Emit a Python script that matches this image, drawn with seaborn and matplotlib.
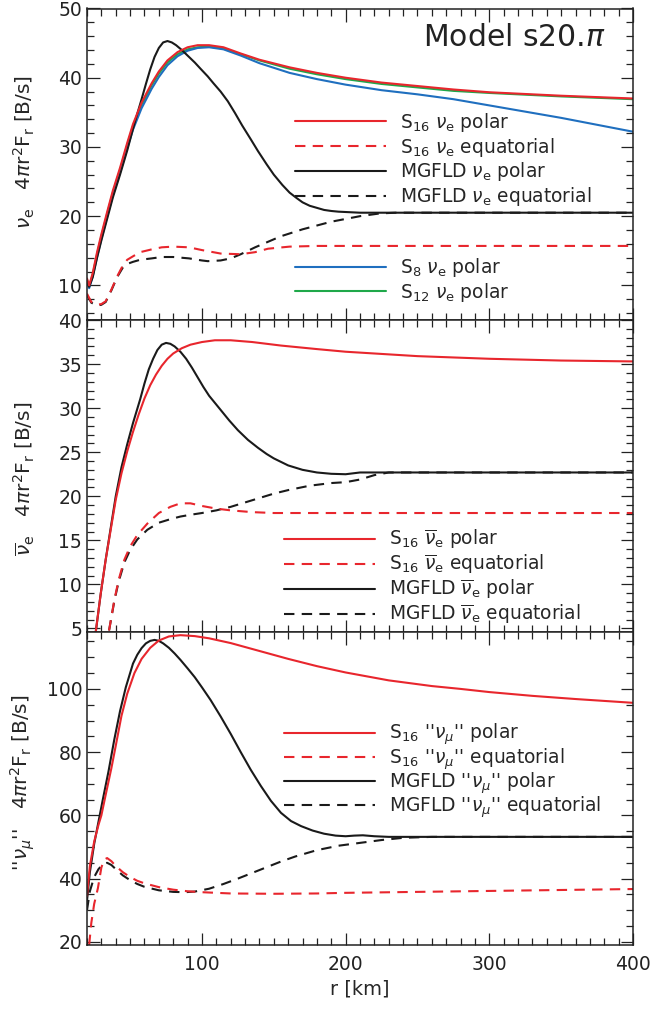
import numpy as np
import pandas as pd
import matplotlib
matplotlib.use("Agg")
import matplotlib.pyplot as plt
from matplotlib.ticker import MultipleLocator
import seaborn as sns

# ---------------- data ----------------
# Panel 1: nu_e
p1_r_polar = [20, 21.5, 24, 27, 30, 34, 38, 43, 48, 52, 58, 65, 70, 76, 83, 90, 97, 105, 115, 127, 140, 161, 180, 200, 225, 250, 275, 300, 350, 400]
p1_s16_polar = [11.0, 10.0, 11.8, 14.8, 17.4, 20.6, 23.7, 27.0, 30.6, 33.3, 36.4, 39.2, 40.9, 42.5, 43.7, 44.4, 44.7, 44.7, 44.4, 43.5, 42.6, 41.5, 40.7, 40.0, 39.3, 38.8, 38.3, 37.9, 37.4, 37.0]
p1_s12_polar = [10.8, 9.8, 11.6, 14.5, 17.1, 20.3, 23.4, 26.7, 30.3, 33.0, 36.1, 38.9, 40.6, 42.2, 43.4, 44.1, 44.4, 44.5, 44.2, 43.4, 42.5, 41.3, 40.5, 39.8, 39.1, 38.6, 38.1, 37.8, 37.3, 36.9]
p1_s8_polar = [10.5, 9.6, 11.3, 14.1, 16.7, 19.9, 23.0, 26.3, 29.8, 32.5, 35.6, 38.4, 40.1, 41.8, 43.1, 43.9, 44.3, 44.4, 44.1, 43.2, 42.1, 40.7, 39.8, 39.0, 38.2, 37.6, 36.9, 36.0, 34.2, 32.2]
p1_r_mg_polar = [20, 21.5, 24, 27, 30, 34, 38, 43, 48, 52, 55, 58, 61, 64, 67, 70, 73, 76, 79, 82, 86, 90, 95, 99, 104, 108, 113, 118, 123, 128, 134, 139, 145, 150, 156, 161, 166, 170, 175, 180, 185, 190, 195, 200, 210, 250, 300, 350, 400]
p1_mg_polar = [10.5, 9.8, 11.2, 14.0, 16.5, 19.6, 22.7, 26.0, 29.5, 32.6, 34.8, 36.9, 39.1, 41.2, 43.0, 44.3, 45.1, 45.3, 45.1, 44.7, 44.0, 43.2, 42.2, 41.3, 40.2, 39.2, 38.0, 36.6, 34.9, 33.1, 31.1, 29.4, 27.5, 26.0, 24.5, 23.4, 22.6, 22.0, 21.5, 21.2, 20.9, 20.75, 20.65, 20.6, 20.5, 20.5, 20.5, 20.5, 20.5]
p1_r_s16_eq = [20, 23, 27, 30, 33, 37, 41, 45, 48, 52, 57, 65, 72, 80, 91, 100, 113, 127, 137, 146, 161, 180, 200, 250, 300, 350, 400]
p1_s16_eq = [8.8, 7.6, 7.2, 7.3, 7.7, 9.4, 11.3, 12.9, 13.7, 14.2, 14.8, 15.2, 15.5, 15.6, 15.5, 15.1, 14.6, 14.5, 14.8, 15.3, 15.6, 15.7, 15.7, 15.7, 15.7, 15.7, 15.7]
p1_r_mg_eq = [20, 23, 27, 30, 33, 37, 41, 45, 48, 52, 57, 65, 72, 80, 91, 100, 104, 113, 120, 127, 137, 146, 155, 170, 190, 210, 224, 235, 250, 300, 350, 400]
p1_mg_eq = [8.6, 7.5, 7.1, 7.2, 7.6, 9.3, 11.2, 12.6, 13.1, 13.4, 13.7, 13.9, 14.1, 14.1, 13.9, 13.6, 13.5, 13.6, 13.9, 14.5, 15.5, 16.3, 17.1, 18.1, 19.2, 20.0, 20.4, 20.5, 20.5, 20.5, 20.5, 20.5]

# Panel 2: anti nu_e
p2_r_s16_polar = [24.5, 26.4, 29.6, 33, 36.5, 40, 44, 48, 52, 56, 60, 64, 68, 72, 76, 80, 86, 92, 100, 109, 120, 135, 155, 180, 200, 250, 300, 350, 400]
p2_s16_polar = [2.6, 5.0, 9.0, 12.8, 16.2, 19.6, 22.6, 25.1, 27.3, 29.3, 31.1, 32.6, 33.8, 34.8, 35.6, 36.2, 36.8, 37.2, 37.5, 37.7, 37.7, 37.5, 37.1, 36.7, 36.4, 35.9, 35.6, 35.4, 35.3]
p2_r_mg_polar = [24.5, 26.4, 29.6, 33, 36.5, 40, 44, 48, 52, 57, 60, 63, 66, 69, 72, 75, 78, 81, 85, 89, 93, 97, 101, 105, 109, 113, 119, 125, 132, 139, 145, 150, 155, 160, 170, 180, 190, 200, 210, 220, 250, 300, 400]
p2_mg_polar = [2.6, 5.0, 9.0, 12.8, 16.4, 20.0, 23.3, 25.9, 28.3, 31.0, 32.8, 34.4, 35.6, 36.6, 37.2, 37.4, 37.3, 37.0, 36.4, 35.6, 34.6, 33.5, 32.4, 31.4, 30.6, 29.8, 28.6, 27.5, 26.4, 25.5, 24.8, 24.3, 23.9, 23.5, 23.0, 22.7, 22.55, 22.5, 22.7, 22.7, 22.7, 22.7, 22.7]
p2_r_s16_eq = [33, 35.6, 39, 42, 46, 50, 55, 62, 70, 78, 85, 92, 100, 110, 120, 135, 150, 200, 250, 300, 350, 400]
p2_s16_eq = [2.8, 5.0, 8.2, 10.5, 12.8, 14.3, 15.6, 16.9, 18.1, 18.8, 19.2, 19.2, 18.9, 18.6, 18.4, 18.2, 18.1, 18.1, 18.1, 18.1, 18.1, 18.1]
p2_r_mg_eq = [33, 35.6, 39, 42, 46, 50, 55, 62, 70, 78, 85, 92, 100, 110, 120, 130, 140, 150, 160, 175, 190, 200, 210, 220, 230, 250, 300, 400]
p2_mg_eq = [2.8, 5.0, 8.1, 10.3, 12.5, 13.9, 15.1, 16.2, 17.0, 17.4, 17.7, 17.9, 18.1, 18.4, 18.8, 19.3, 19.8, 20.3, 20.7, 21.2, 21.5, 21.6, 21.9, 22.4, 22.7, 22.7, 22.7, 22.7]

# Panel 3: "nu_mu"
p3_r_s16_polar = [20, 22, 25, 28, 30, 33, 37, 40, 44, 48, 53, 58, 64, 70, 77, 85, 95, 105, 120, 140, 160, 180, 200, 230, 260, 280, 300, 330, 360, 400]
p3_s16_polar = [34.5, 44, 51.7, 57, 60, 66.5, 75, 82, 91.5, 98.5, 105, 109.5, 113, 115.3, 116.6, 117.0, 116.7, 116.0, 114.5, 112.0, 109.5, 107.2, 105.2, 102.7, 100.9, 100.0, 99.0, 97.8, 96.8, 95.6]
p3_r_mg_polar = [20, 22, 25, 28, 31, 35, 39, 43, 47, 52, 55, 58, 61, 64, 67, 70, 73, 77, 81, 85, 90, 95, 100, 106, 113, 120, 127, 134, 141, 148, 155, 162, 169, 177, 185, 193, 200, 206, 212, 220, 230, 250, 300, 400]
p3_mg_polar = [33, 42, 51, 58, 65, 74, 84, 93, 100.5, 108, 110.8, 112.9, 114.4, 115.2, 115.5, 115.2, 114.4, 113.0, 111.2, 109.2, 106.5, 103.7, 100.5, 96.5, 91.3, 85.8, 80.0, 74.4, 69.3, 64.6, 60.8, 58.2, 56.6, 55.2, 54.2, 53.6, 53.4, 53.6, 53.7, 53.4, 53.2, 53.2, 53.2, 53.2]
p3_r_s16_eq = [21.5, 23, 25, 27.6, 30, 32, 34, 37, 40, 45, 50, 55, 60, 70, 80, 90, 100, 120, 150, 180, 200, 250, 300, 350, 400]
p3_s16_eq = [19, 26, 32, 37, 43.5, 46, 46.5, 45.5, 44.0, 42.0, 40.5, 39.3, 38.5, 37.3, 36.5, 36.0, 35.7, 35.3, 35.2, 35.3, 35.5, 35.8, 36.1, 36.4, 36.7]
p3_r_mg_eq = [20, 22, 25, 28, 31, 34, 37, 40, 45, 50, 55, 60, 70, 80, 88, 95, 105, 115, 125, 135, 145, 155, 165, 180, 195, 210, 225, 240, 260, 300, 400]
p3_mg_eq = [30, 36, 40.5, 43.0, 44.5, 45.0, 44.3, 43.0, 41.0, 39.5, 38.3, 37.4, 36.3, 35.8, 35.7, 35.9, 36.8, 38.3, 40.0, 41.8, 43.6, 45.4, 47.0, 49.0, 50.4, 51.3, 52.2, 52.9, 53.2, 53.2, 53.2]

x_ticks = [100, 200, 300, 400]
x_tick_labels = ["100", "200", "300", "400"]

# ---------------- style ----------------
sns.set_theme(style="ticks")
plt.rcParams["font.family"] = ["DejaVu Sans"]
plt.rcParams["mathtext.fontset"] = "dejavusans"
plt.rcParams["axes.linewidth"] = 1.0

RED = "#e8262d"
BLACK = "#1a1a1a"
BLUE = "#1f6fbf"
GREEN = "#1fa84a"
DASH = (5, 3.5)
LW = 1.5

fig = plt.figure(figsize=(6.52, 10.10), dpi=100)
L, W = 87 / 652, (633 - 87) / 652
def ax_at(top_px, bot_px):
    return fig.add_axes([L, 1 - bot_px / 1010, W, (bot_px - top_px) / 1010])

ax1 = ax_at(8.5, 320)
ax2 = ax_at(320, 632)
ax3 = ax_at(632, 945)

def line(ax, r, v, color, label, dashed=False):
    df = pd.DataFrame({"r": r, "v": v})
    sns.lineplot(data=df, x="r", y="v", ax=ax, color=color, lw=LW,
                 estimator=None, sort=False, label=label,
                 dashes=False, legend=False)
    ln = ax.lines[-1]
    if dashed:
        ln.set_dashes(DASH)
    ln.set_label(label)
    return ln

nue = r"$\nu_{\rm e}$"
anue = r"$\overline{\nu}_{\rm e}$"
numu = r"''$\nu_{\mu}$''"

h1 = [line(ax1, p1_r_polar, p1_s12_polar, GREEN, "S$_{12}$ " + nue + " polar"),
      line(ax1, p1_r_polar, p1_s8_polar, BLUE, "S$_{8}$ " + nue + " polar"),
      line(ax1, p1_r_mg_polar, p1_mg_polar, BLACK, "MGFLD " + nue + " polar"),
      line(ax1, p1_r_mg_eq, p1_mg_eq, BLACK, "MGFLD " + nue + " equatorial", True),
      line(ax1, p1_r_s16_eq, p1_s16_eq, RED, "S$_{16}$ " + nue + " equatorial", True),
      line(ax1, p1_r_polar, p1_s16_polar, RED, "S$_{16}$ " + nue + " polar")]

h2 = [line(ax2, p2_r_mg_polar, p2_mg_polar, BLACK, "MGFLD " + anue + " polar"),
      line(ax2, p2_r_mg_eq, p2_mg_eq, BLACK, "MGFLD " + anue + " equatorial", True),
      line(ax2, p2_r_s16_eq, p2_s16_eq, RED, "S$_{16}$ " + anue + " equatorial", True),
      line(ax2, p2_r_s16_polar, p2_s16_polar, RED, "S$_{16}$ " + anue + " polar")]

h3 = [line(ax3, p3_r_mg_polar, p3_mg_polar, BLACK, "MGFLD " + numu + " polar"),
      line(ax3, p3_r_mg_eq, p3_mg_eq, BLACK, "MGFLD " + numu + " equatorial", True),
      line(ax3, p3_r_s16_eq, p3_s16_eq, RED, "S$_{16}$ " + numu + " equatorial", True),
      line(ax3, p3_r_s16_polar, p3_s16_polar, RED, "S$_{16}$ " + numu + " polar")]

FS = 13.4
leg_kw = dict(frameon=False, fontsize=FS, handlelength=4.9, handletextpad=0.75,
              borderpad=0, borderaxespad=0, loc="upper left")

lg1 = ax1.legend(handles=[h1[5], h1[4], h1[2], h1[3]], bbox_to_anchor=(0.381, 0.672),
                 labelspacing=0.1, **leg_kw)
ax1.add_artist(lg1)
ax1.legend(handles=[h1[1], h1[0]], bbox_to_anchor=(0.381, 0.205), labelspacing=0.1, **leg_kw)

ax2.legend(handles=[h2[3], h2[2], h2[0], h2[1]], bbox_to_anchor=(0.36, 0.335),
           labelspacing=0.08, **leg_kw)
ax3.legend(handles=[h3[3], h3[2], h3[0], h3[1]], bbox_to_anchor=(0.36, 0.713),
           labelspacing=-0.07, **leg_kw)

ax1.text(0.949, 0.908, r"Model s20.$\pi$", transform=ax1.transAxes,
         ha="right", va="center", fontsize=21.5, color="#222222")

specs = [(ax1, (5, 50), 10, 2, [10, 20, 30, 40, 50]),
         (ax2, (4.6, 40), 5, 1, [5, 10, 15, 20, 25, 30, 35, 40]),
         (ax3, (19, 118), 20, 5, [20, 40, 60, 80, 100])]
for ax, yl, maj, mnr, yt in specs:
    ax.set_xlim(20, 400)
    ax.set_ylim(*yl)
    ax.set_yticks(yt)
    ax.yaxis.set_minor_locator(MultipleLocator(mnr))
    ax.set_xticks(x_ticks)
    ax.xaxis.set_minor_locator(MultipleLocator(10))
    ax.tick_params(which="both", direction="in", top=True, right=True,
                   labelsize=13.5, colors="#222222", width=0.9)
    ax.tick_params(which="major", length=9)
    ax.tick_params(which="minor", length=5)
    for s in ax.spines.values():
        s.set_color("#222222")
        s.set_linewidth(1.1)
    ax.set_xlabel("")

ax1.set_xticklabels([])
ax2.set_xticklabels([])
ax3.set_xticklabels(x_tick_labels)
ax3.tick_params(axis="x", pad=7)

ylab_tail = r"   4$\pi$r$^2$F$_{\rm r}$ [B/s]"
ax1.set_ylabel(nue + ylab_tail, fontsize=14.5)
ax2.set_ylabel(anue + ylab_tail, fontsize=14.5)
ax3.set_ylabel(numu + ylab_tail, fontsize=14.5)
ax1.yaxis.set_label_coords(-0.092, 0.54)
ax2.yaxis.set_label_coords(-0.092, 0.49)
ax3.yaxis.set_label_coords(-0.092, 0.52)
ax3.set_xlabel("r [km]", fontsize=14)

fig.savefig("out.png", dpi=100)
